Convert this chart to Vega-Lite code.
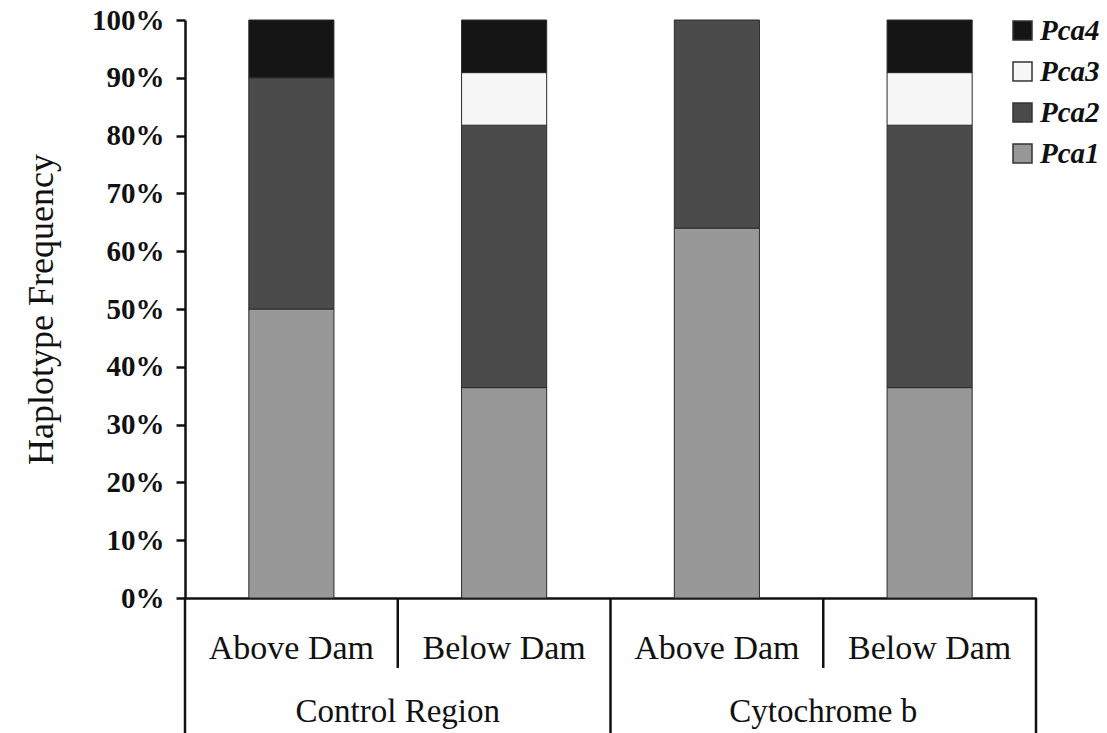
{
  "$schema": "https://vega.github.io/schema/vega-lite/v6.json",
  "width": 851,
  "height": 578,
  "autosize": {"type": "none"},
  "padding": {"left": 185, "top": 20, "right": 71, "bottom": 135},
  "background": "white",
  "config": {
    "view": {"stroke": null},
    "font": "Liberation Serif"
  },
  "datasets": {
    "bars": [
      {"cat": "Control Region|Above Dam", "hap": "Pca1", "freq": 0.5},
      {"cat": "Control Region|Above Dam", "hap": "Pca2", "freq": 0.4},
      {"cat": "Control Region|Above Dam", "hap": "Pca4", "freq": 0.1},
      {"cat": "Control Region|Below Dam", "hap": "Pca1", "freq": 0.364},
      {"cat": "Control Region|Below Dam", "hap": "Pca2", "freq": 0.454},
      {"cat": "Control Region|Below Dam", "hap": "Pca3", "freq": 0.091},
      {"cat": "Control Region|Below Dam", "hap": "Pca4", "freq": 0.091},
      {"cat": "Cytochrome b|Above Dam", "hap": "Pca1", "freq": 0.64},
      {"cat": "Cytochrome b|Above Dam", "hap": "Pca2", "freq": 0.36},
      {"cat": "Cytochrome b|Below Dam", "hap": "Pca1", "freq": 0.364},
      {"cat": "Cytochrome b|Below Dam", "hap": "Pca2", "freq": 0.454},
      {"cat": "Cytochrome b|Below Dam", "hap": "Pca3", "freq": 0.091},
      {"cat": "Cytochrome b|Below Dam", "hap": "Pca4", "freq": 0.091}
    ],
    "seps": [
      {"cat": "Control Region|Above Dam", "top": 0, "low": -0.234},
      {"cat": "Control Region|Below Dam", "top": 0, "low": -0.121},
      {"cat": "Cytochrome b|Above Dam", "top": 0, "low": -0.234},
      {"cat": "Cytochrome b|Below Dam", "top": 0, "low": -0.121}
    ],
    "endsep": [
      {"cat": "Cytochrome b|Below Dam", "top": 0, "low": -0.234}
    ],
    "groups": [
      {"cat": "Control Region|Below Dam", "label": "Control Region", "y": -0.197},
      {"cat": "Cytochrome b|Below Dam", "label": "Cytochrome b", "y": -0.197}
    ]
  },
  "layer": [
    {
      "data": {"name": "bars"},
      "mark": {"type": "bar", "width": {"band": 0.4}, "stroke": "#2a2a2a", "strokeWidth": 1},
      "encoding": {
        "x": {
          "field": "cat",
          "type": "nominal",
          "sort": null,
          "scale": {
            "domain": ["Control Region|Above Dam", "Control Region|Below Dam", "Cytochrome b|Above Dam", "Cytochrome b|Below Dam"],
            "paddingInner": 0,
            "paddingOuter": 0
          },
          "axis": {
            "title": null,
            "labelExpr": "split(datum.value, '|')[1]",
            "labelAngle": 0,
            "labelFont": "Liberation Serif",
            "labelFontSize": 34,
            "labelColor": "#111",
            "labelBaseline": "middle",
            "labelPadding": 50,
            "ticks": false,
            "domainColor": "#111",
            "domainWidth": 2.5,
            "grid": false
          }
        },
        "y": {
          "field": "freq",
          "type": "quantitative",
          "stack": "zero",
          "scale": {"domain": [0, 1], "nice": false, "zero": true},
          "axis": {
            "title": "Haplotype Frequency",
            "titleFont": "Liberation Serif",
            "titleFontSize": 36,
            "titleFontWeight": "normal",
            "titleColor": "#111",
            "titlePadding": 31,
            "format": ".0%",
            "values": [0, 0.1, 0.2, 0.3, 0.4, 0.5, 0.6, 0.7, 0.8, 0.9, 1],
            "labelFont": "Liberation Serif",
            "labelFontSize": 29,
            "labelFontWeight": "bold",
            "labelColor": "#111",
            "labelPadding": 12,
            "tickSize": 9,
            "tickWidth": 2.5,
            "tickColor": "#111",
            "domainColor": "#111",
            "domainWidth": 2.5,
            "grid": false
          }
        },
        "color": {
          "field": "hap",
          "type": "nominal",
          "scale": {
            "domain": ["Pca4", "Pca3", "Pca2", "Pca1"],
            "range": ["#151515", "#f7f7f7", "#4b4b4b", "#989898"]
          },
          "legend": {
            "title": null,
            "orient": "none",
            "legendX": 823,
            "legendY": -4,
            "symbolType": "square",
            "symbolSize": 361,
            "symbolStrokeColor": "#333",
            "symbolStrokeWidth": 1.5,
            "labelFont": "Liberation Serif",
            "labelFontSize": 29,
            "labelFontWeight": "bold",
            "labelFontStyle": "italic",
            "labelColor": "#111",
            "labelOffset": 3,
            "rowPadding": 11
          }
        },
        "order": {"field": "hap", "type": "nominal", "sort": "ascending"}
      }
    },
    {
      "data": {"name": "seps"},
      "mark": {"type": "rule", "color": "#111", "strokeWidth": 2.5},
      "encoding": {
        "x": {"field": "cat", "type": "nominal", "sort": null, "bandPosition": 0},
        "y": {"field": "top", "type": "quantitative"},
        "y2": {"field": "low"}
      }
    },
    {
      "data": {"name": "endsep"},
      "mark": {"type": "rule", "color": "#111", "strokeWidth": 2.5},
      "encoding": {
        "x": {"field": "cat", "type": "nominal", "sort": null, "bandPosition": 1},
        "y": {"field": "top", "type": "quantitative"},
        "y2": {"field": "low"}
      }
    },
    {
      "data": {"name": "groups"},
      "mark": {"type": "text", "font": "Liberation Serif", "fontSize": 33, "color": "#111", "baseline": "middle", "align": "center"},
      "encoding": {
        "x": {"field": "cat", "type": "nominal", "sort": null, "bandPosition": 0},
        "y": {"field": "y", "type": "quantitative"},
        "text": {"field": "label"}
      }
    }
  ]
}
